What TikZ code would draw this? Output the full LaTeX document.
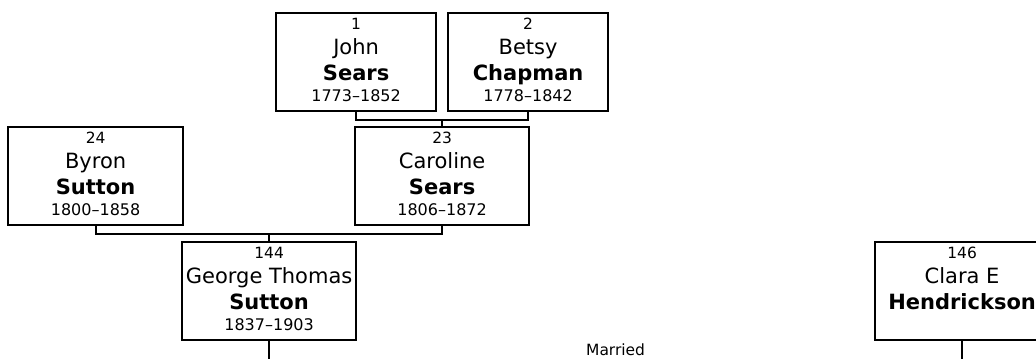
\documentclass[tikz,border=0pt]{standalone}
\usepackage{fontspec}
\setmainfont{DejaVu Sans}
\usetikzlibrary{calc}
\tikzset{
  pbox/.style={draw, line width=1.65pt, inner sep=0pt, anchor=north west, minimum height=98*0.75pt},
  conn/.style={line width=1.65pt},
  numtxt/.style={font=\fontsize{11.6}{13}\selectfont, anchor=base, inner sep=0pt},
  giventxt/.style={font=\fontsize{15.75}{18}\selectfont, anchor=base, inner sep=0pt},
  surtxt/.style={font=\fontsize{15.75}{18}\selectfont\bfseries, anchor=base, inner sep=0pt},
  datetxt/.style={font=\fontsize{12}{14}\selectfont, anchor=base, inner sep=0pt},
  marrtxt/.style={font=\fontsize{11.6}{13}\selectfont, anchor=base, inner sep=0pt},
}
% #1 name, #2 left, #3 top, #4 width (px), #5 number, #6 given, #7 surname, #8 dates
\newcommand\personbox[8]{%
  \node[pbox, minimum width=#4*0.75pt] (#1) at (#2,#3) {};
  \node[numtxt] (#1num) at ([yshift=-17*0.75pt]#1.north) {#5};
  \node[giventxt] (#1given) at ([yshift=-42.5*0.75pt]#1.north) {#6};
  \node[surtxt] (#1sur) at ([yshift=-68*0.75pt]#1.north) {#7};
  \node[datetxt] (#1dates) at ([yshift=-89*0.75pt]#1.north) {#8};
}
\begin{document}
\begin{tikzpicture}[x=0.75pt,y=-0.75pt]
  \useasboundingbox (0,0) rectangle (1036,358);
  \clip (0,0) rectangle (1036,358);

  \personbox{john}{275}{12}{160}{1}{John}{Sears}{1773–1852}
  \personbox{betsy}{447}{12}{160}{2}{Betsy}{Chapman}{1778–1842}
  \personbox{byron}{7}{126}{175}{24}{Byron}{Sutton}{1800–1858}
  \personbox{caroline}{354}{126}{174}{23}{Caroline}{Sears}{1806–1872}
  \personbox{george}{181}{241}{174}{144}{George Thomas}{Sutton}{1837–1903}
  \personbox{clara}{874}{241}{174}{146}{Clara E}{Hendrickson}{}

  % parents of Caroline
  \draw[conn] (john.south) -- ++(0,8) -| (betsy.south);
  \coordinate (jb) at ($(john.south)!0.5!(betsy.south) + (0,8)$);
  \draw[conn] (jb) -- (jb |- caroline.north);

  % parents of George
  \draw[conn] (byron.south) -- ++(0,8) -| (caroline.south);
  \coordinate (bc) at ($(byron.south)!0.5!(caroline.south) + (0,8)$);
  \draw[conn] (bc) -- (bc |- george.north);

  % descent lines
  \coordinate (gend) at ($(george.south) + (0,30)$);
  \coordinate (cend) at ($(clara.south) + (0,30)$);
  \draw[conn] (george.south) -- (gend);
  \draw[conn] (clara.south) -- (cend);

  \node[marrtxt] (married) at ($(george.south)!0.5!(clara.south) + (0,14.5)$) {Married};
\end{tikzpicture}
\end{document}
